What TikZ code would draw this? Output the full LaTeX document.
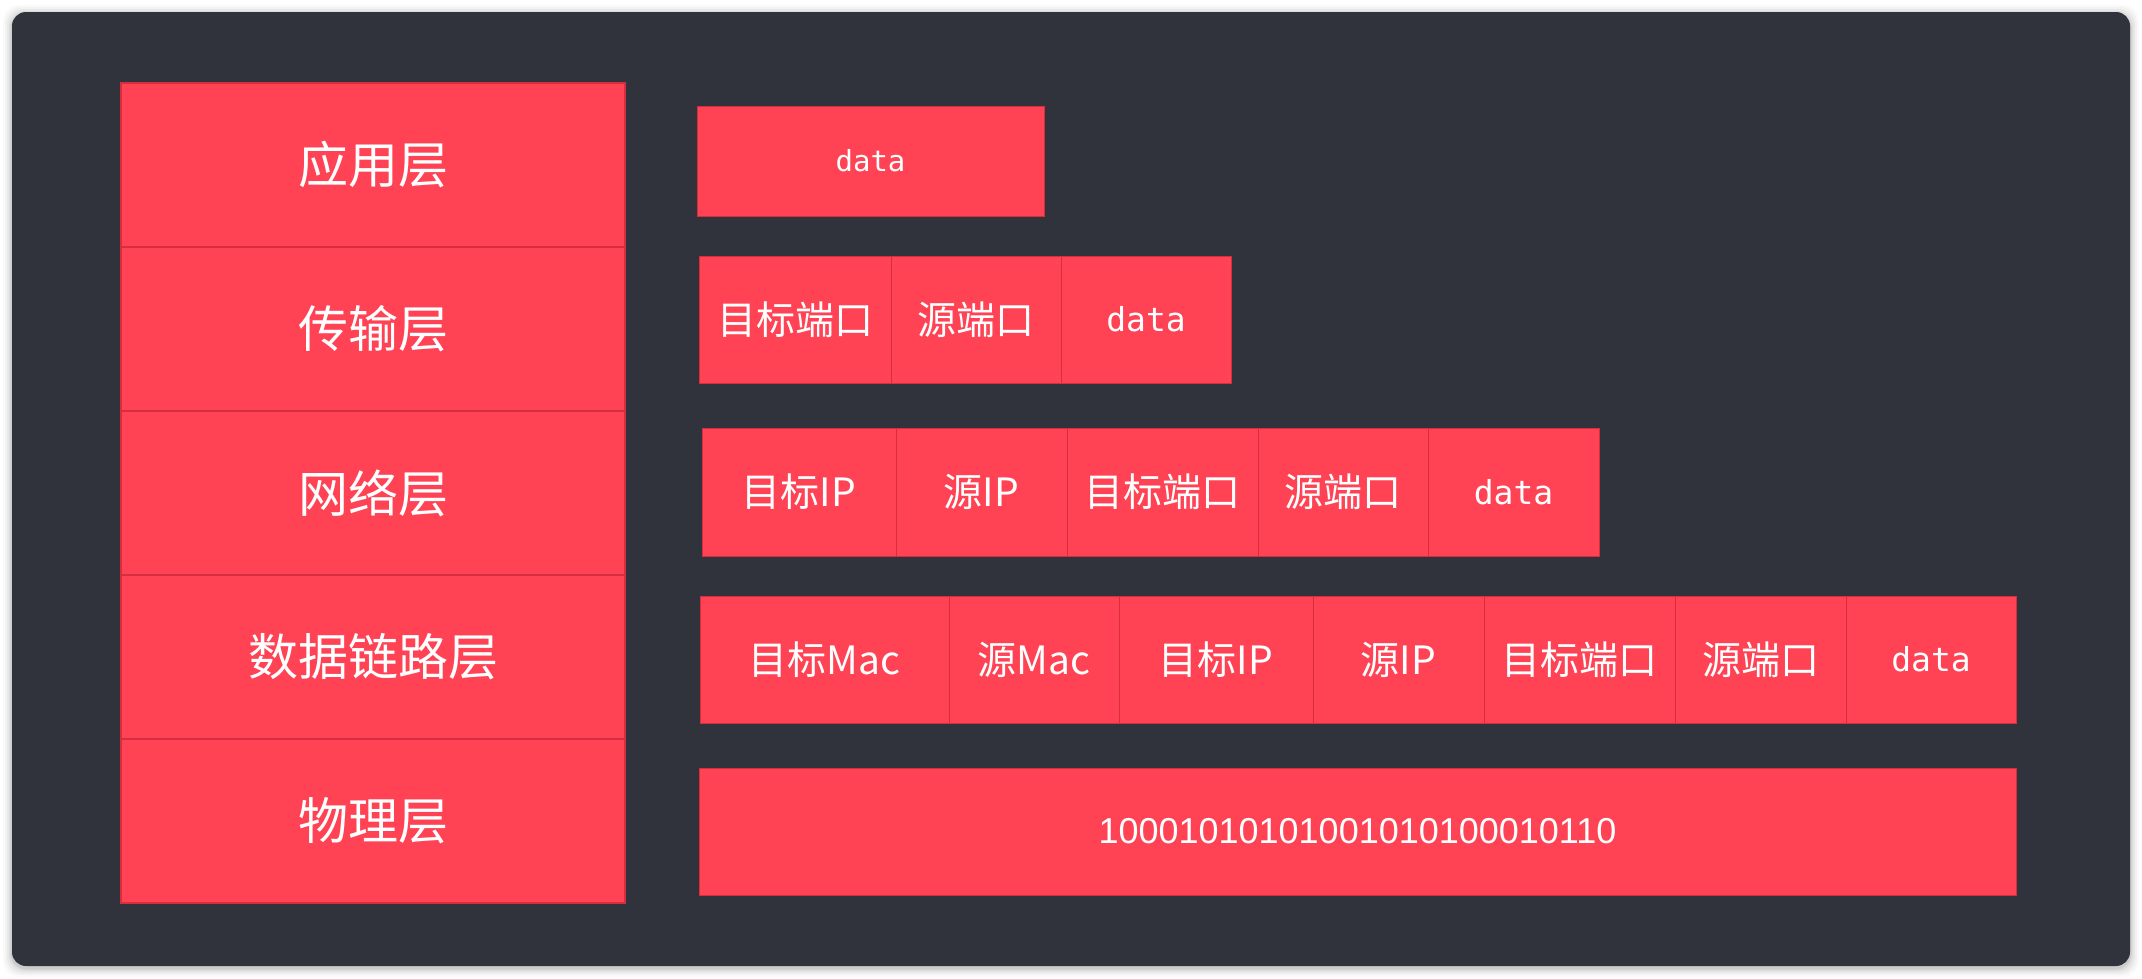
\documentclass[tikz,border=0pt]{standalone}
\usepackage{fontspec}
\newfontfamily\cjk{Noto Sans CJK SC}
\newfontfamily\monof{DejaVu Sans Mono}
\newfontfamily\binf{Liberation Sans}
\definecolor{panelbg}{RGB}{49,51,60}
\definecolor{cellred}{RGB}{255,66,84}
\definecolor{cellline}{RGB}{214,46,62}
\newcommand\cellbox[7][]{%
  \node[cellbox,#1,minimum width={#4-#2},minimum height={#5-#3}] (#6) at ({(#2+#4)/2},{(#3+#5)/2}) {#7};}
\begin{document}
\begin{tikzpicture}[x=1pt,y=-1pt,
  cellbox/.style={rectangle,fill=cellred,draw=cellline,line width=1pt,inner sep=0pt,outer sep=0pt,text=white,font=\cjk\fontsize{39}{39}\selectfont},
  layer/.style={font=\cjk\fontsize{50}{50}\selectfont,line width=1.6pt},
  datasm/.style={font=\monof\fontsize{29}{29}\selectfont},
  datab/.style={font=\monof\fontsize{33}{33}\selectfont},
  bits/.style={font=\binf\fontsize{36}{36}\selectfont}]
\useasboundingbox (0,0) rectangle (2142,978);
\fill[white] (0,0) rectangle (2142,978);
% soft shadow
\foreach \d/\o in {9/0.02,7/0.03,5/0.04,3/0.05,1.5/0.07}{
  \fill[black,opacity=\o,rounded corners=16] (12-\d,12-\d+2) rectangle (2130+\d,966+\d+2);}
\fill[panelbg,rounded corners=14] (12,12) rectangle (2130,966);
% layer column
\cellbox[layer]{121}{83}{625}{247}{l1}{应用层}
\cellbox[layer]{121}{247}{625}{411}{l2}{传输层}
\cellbox[layer]{121}{411}{625}{575}{l3}{网络层}
\cellbox[layer]{121}{575}{625}{739}{l4}{数据链路层}
\cellbox[layer]{121}{739}{625}{903}{l5}{物理层}
% application
\cellbox[datasm]{697}{106}{1044}{216}{a1}{data}
% transport
\cellbox{699}{256}{891}{383}{t1}{目标端口}
\cellbox{891}{256}{1061}{383}{t2}{源端口}
\cellbox[datab]{1061}{256}{1231}{383}{t3}{data}
% network
\cellbox{702}{428}{896}{556}{n1}{目标IP}
\cellbox{896}{428}{1067}{556}{n2}{源IP}
\cellbox{1067}{428}{1258}{556}{n3}{目标端口}
\cellbox{1258}{428}{1428}{556}{n4}{源端口}
\cellbox[datab]{1428}{428}{1599}{556}{n5}{data}
% data link
\cellbox{700}{596}{949}{723}{d1}{目标Mac}
\cellbox{949}{596}{1119}{723}{d2}{源Mac}
\cellbox{1119}{596}{1313}{723}{d3}{目标IP}
\cellbox{1313}{596}{1484}{723}{d4}{源IP}
\cellbox{1484}{596}{1675}{723}{d5}{目标端口}
\cellbox{1675}{596}{1846}{723}{d6}{源端口}
\cellbox[datab]{1846}{596}{2016}{723}{d7}{data}
% physical
\cellbox[bits]{699}{768}{2016}{895}{p1}{10001010101001010100010110}
\end{tikzpicture}
\end{document}
